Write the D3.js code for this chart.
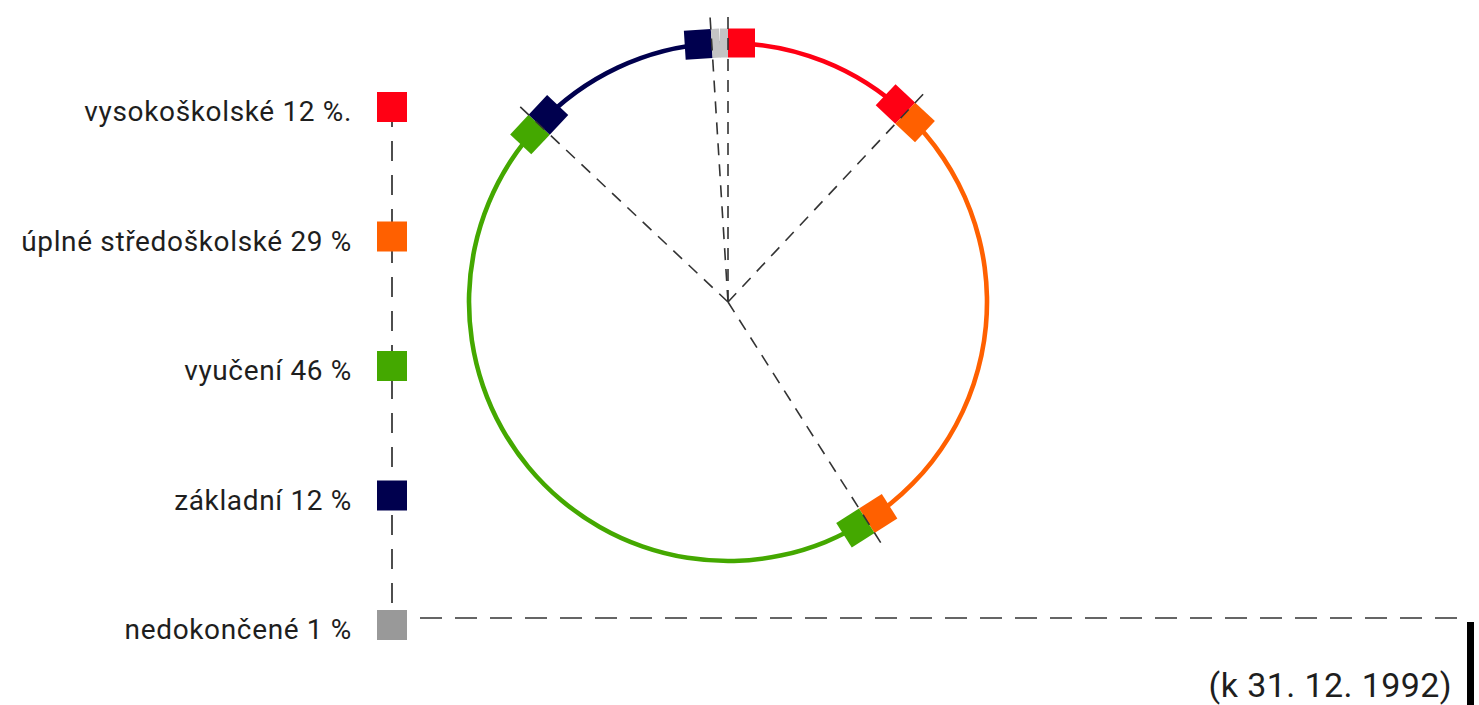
<!DOCTYPE html>
<html>
<head>
<meta charset="utf-8">
<script src="https://cdn.jsdelivr.net/npm/d3@7"></script>
<style>
  html, body { margin: 0; padding: 0; background: #fff; }
  svg { display: block; }
  text { font-family: "Roboto", "Liberation Sans", sans-serif; fill: #1e1e1e; }
</style>
</head>
<body>
<svg id="chart" width="1479" height="705"></svg>
<script>
// ---- data ----
const categories = ["vysokoškolské", "úplné středoškolské", "vyučení", "základní", "nedokončené"];
const values = [12, 29, 46, 12, 1];
const labels = ["vysokoškolské 12 %.", "úplné středoškolské 29 %", "vyučení 46 %", "základní 12 %", "nedokončené 1 %"];
const colors = ["#ff0014", "#ff6000", "#44a800", "#00004e", "#999999"];
const note = "(k 31. 12. 1992)";

// ---- layout ----
const W = 1479, H = 705;
const cx = 728, cy = 302, R = 259;
const svg = d3.select("#chart");

const data = categories.map((c, i) => ({ cat: c, value: values[i], label: labels[i], color: colors[i] }));
const pie = d3.pie().sort(null).value(d => d.value);
const slices = pie(data);

const g = svg.append("g").attr("transform", `translate(${cx},${cy})`);

// ring arcs
const ringArc = d3.arc().innerRadius(R - 2.3).outerRadius(R + 2.3);
g.selectAll("path.ring").data(slices).join("path")
  .attr("class", "ring")
  .attr("d", ringArc)
  .attr("fill", d => d.data.color);

// boundary squares
const sqAcross = 29, sqAlong = 27;
const marks = [];
slices.forEach(s => {
  const arcLen = (s.endAngle - s.startAngle) * R;
  const w = Math.min(sqAlong, arcLen / 2);
  marks.push({ angle: s.startAngle, dir: 1, w, color: s.data.color, light: arcLen < 2 * sqAlong });
  marks.push({ angle: s.endAngle, dir: -1, w, color: s.data.color, light: arcLen < 2 * sqAlong });
});
g.selectAll("rect.mark").data(marks).join("rect")
  .attr("class", "mark")
  .attr("transform", d => `rotate(${d.angle * 180 / Math.PI}) translate(0,${-R})`)
  .attr("x", d => d.dir > 0 ? 0 : -d.w)
  .attr("y", -sqAcross / 2)
  .attr("width", d => d.w)
  .attr("height", sqAcross)
  .attr("fill", d => d.light ? "#c4c4c4" : d.color);

// dashed radial lines at boundaries
const bounds = slices.map(s => s.startAngle);
const lineLen = R + 32;
g.selectAll("line.rad").data(bounds).join("line")
  .attr("class", "rad")
  .attr("x1", 0).attr("y1", 0)
  .attr("x2", a => lineLen * Math.sin(a))
  .attr("y2", a => -lineLen * Math.cos(a))
  .attr("stroke", "#333")
  .attr("stroke-width", 1.6)
  .attr("stroke-dasharray", "12,9");

// ---- legend ----
const ly = d3.scalePoint().domain(categories).range([107, 625]);
const lx = 392, ls = 30;

svg.append("line")
  .attr("x1", lx).attr("x2", lx)
  .attr("y1", ly(categories[0])).attr("y2", ly(categories[categories.length - 1]))
  .attr("stroke", "#222").attr("stroke-width", 1.6)
  .attr("stroke-dasharray", "20,14");

svg.append("line")
  .attr("x1", 420).attr("x2", 1466)
  .attr("y1", 618).attr("y2", 618)
  .attr("stroke", "#333").attr("stroke-width", 1.6)
  .attr("stroke-dasharray", "22,13");

svg.selectAll("rect.leg").data(data).join("rect")
  .attr("class", "leg")
  .attr("x", lx - ls / 2)
  .attr("y", d => ly(d.cat) - ls / 2)
  .attr("width", ls).attr("height", ls)
  .attr("fill", d => d.color);

const legText = svg.selectAll("text.leg").data(data).join("text")
  .attr("class", "leg")
  .attr("x", 352)
  .attr("y", d => ly(d.cat) + 14)
  .attr("text-anchor", "end")
  .attr("font-size", 28)
  .text(d => d.label);
// fit first label to the reference width, apply same spacing to all
const w0 = legText.node().getComputedTextLength();
const n0 = labels[0].length;
const ls0 = (267 - w0) / (n0 - 1);
legText.attr("letter-spacing", ls0);

// note + bar
svg.append("rect")
  .attr("x", 1467).attr("y", 622).attr("width", 7).attr("height", H - 622)
  .attr("fill", "#000");
const nt = svg.append("text")
  .attr("x", 1452).attr("y", 697)
  .attr("text-anchor", "end")
  .attr("font-size", 34)
  .text(note);
const wn = nt.node().getComputedTextLength();
nt.attr("letter-spacing", (243 - wn) / (note.length - 1));
</script>
</body>
</html>
